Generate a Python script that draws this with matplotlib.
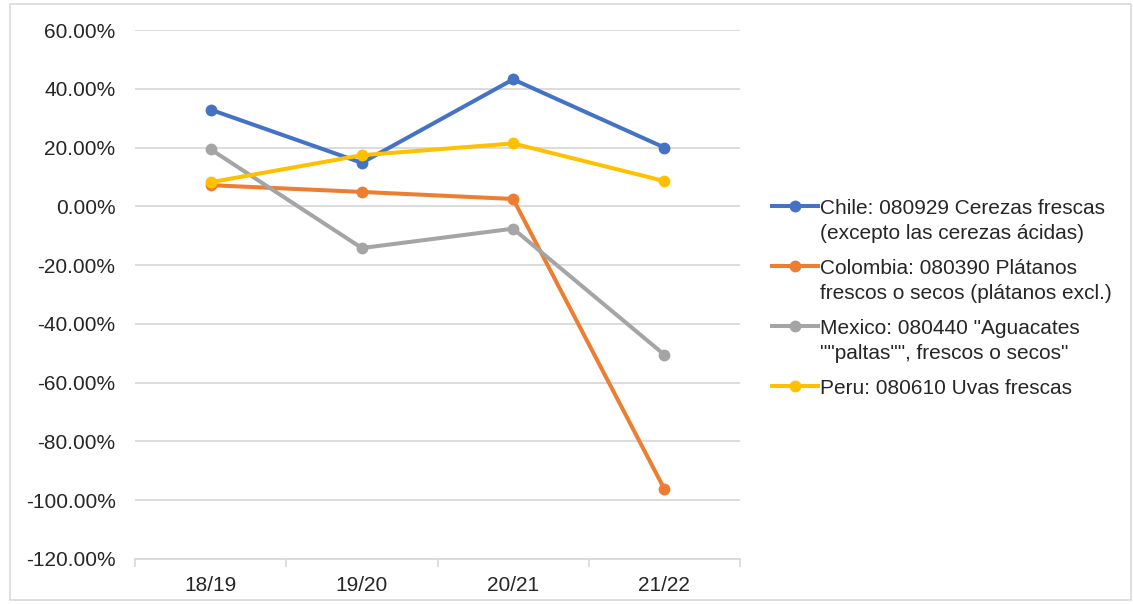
import matplotlib
matplotlib.use("Agg")
import matplotlib.pyplot as plt
from matplotlib.lines import Line2D
from matplotlib.patches import Rectangle
from matplotlib.ticker import FuncFormatter, FixedLocator

plt.rcParams['font.family'] = ['Liberation Sans', 'DejaVu Sans']

seasons = ["18/19", "19/20", "20/21", "21/22"]
chile = [32.9, 14.8, 43.2, 20.0]
colombia = [7.2, 4.9, 2.5, -96.2]
mexico = [19.4, -14.2, -7.6, -50.5]
peru = [8.2, 17.4, 21.4, 8.6]

series_labels = [
    "Chile: 080929 Cerezas frescas\n(excepto las cerezas ácidas)",
    "Colombia: 080390 Plátanos\nfrescos o secos (plátanos excl.)",
    "Mexico: 080440 \"Aguacates\n\"\"paltas\"\", frescos o secos\"",
    "Peru: 080610 Uvas frescas",
]
series_values = [chile, colombia, mexico, peru]
colors = ["#4472C4", "#ED7D31", "#A5A5A5", "#FFC000"]

FS = 15
TXT = "#262626"

W, H = 1133, 604
fig = plt.figure(figsize=(W / 100, H / 100), dpi=100)
fig.patch.set_facecolor("white")

# outer chart border
fig.add_artist(Rectangle((10 / W, 4 / H), 1121 / W, 596 / H, transform=fig.transFigure,
                         fill=False, edgecolor="#D9D9D9", linewidth=1.2))

ax = fig.add_axes([135 / W, (H - 559) / H, 605 / W, 529 / H])
x = list(range(len(seasons)))

for vals, col in zip(series_values, colors):
    ax.plot(x, vals, color=col, linewidth=2.9, marker="o", markersize=7.5,
            solid_capstyle="round", zorder=3)

ax.set_xlim(-0.5, len(seasons) - 0.5)
ax.set_ylim(-120, 60)
ax.set_yticks(range(-120, 61, 20))
ax.yaxis.set_major_formatter(FuncFormatter(lambda v, p: f"{v:.2f}%"))
ax.grid(axis="y", color="#D9D9D9", linewidth=1.3, zorder=0)
ax.set_axisbelow(True)

ax.set_xticks(x)
ax.set_xticklabels(seasons)
ax.xaxis.set_minor_locator(FixedLocator([i - 0.5 for i in range(len(seasons) + 1)]))
ax.tick_params(axis="x", which="major", length=0, pad=12.5, labelsize=FS, labelcolor=TXT)
ax.tick_params(axis="x", which="minor", length=6, width=1.2, color="#D9D9D9")
ax.tick_params(axis="y", length=0, pad=14, labelsize=FS, labelcolor=TXT)

for s in ["top", "right", "left"]:
    ax.spines[s].set_visible(False)
ax.spines["bottom"].set_color("#D9D9D9")
ax.spines["bottom"].set_linewidth(1.3)

# legend, handles aligned with the first line of each entry
legend_y = [206, 266, 326, 386]
for lab, col, yy in zip(series_labels, colors, legend_y):
    yf = (H - yy) / H
    fig.add_artist(Line2D([772 / W, 818 / W], [yf, yf], transform=fig.transFigure,
                          color=col, linewidth=2.9))
    fig.add_artist(Line2D([795 / W], [yf], transform=fig.transFigure, color=col,
                          marker="o", markersize=7.5, linestyle="none"))
    fig.text(820 / W, yf + 7.5 / H, lab, fontsize=FS, color=TXT, va="top",
             ha="left", linespacing=1.42, transform=fig.transFigure)

fig.savefig("out.png", dpi=100)
